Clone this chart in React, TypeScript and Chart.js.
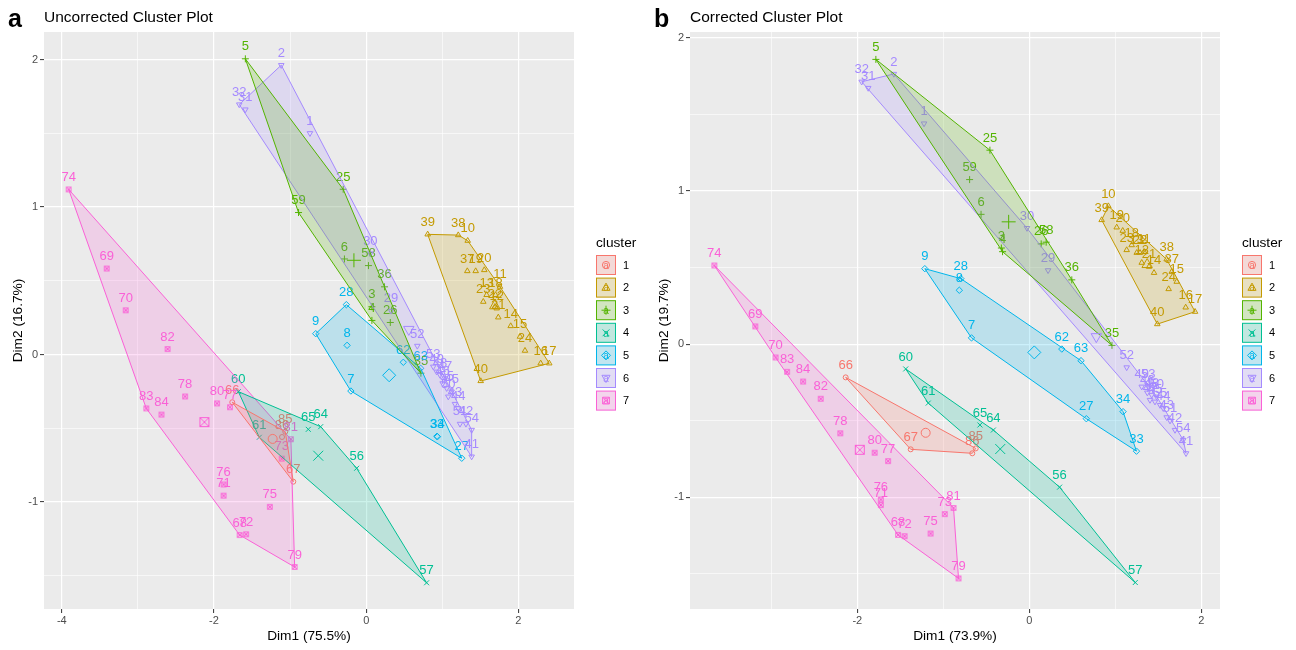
import React, { useEffect, useRef } from "react";
import { Chart, registerables } from "chart.js";

Chart.register(...registerables);

const FONT = "'Liberation Sans', Arial, Helvetica, sans-serif";

// ---------------- data ----------------
const clusterNames = ["1", "2", "3", "4", "5", "6", "7"];
const clusterColors = ["#F8766D", "#C49A00", "#53B400", "#00C094", "#00B6EB", "#A58AFF", "#FB61D7"];

const pointIds = [
  "1", "2", "3", "4", "5", "6", "7", "8", "9", "10",
  "11", "12", "13", "14", "15", "16", "17", "18", "19", "20",
  "21", "22", "23", "24", "25", "26", "27", "28", "29", "30",
  "31", "32", "33", "34", "35", "36", "37", "38", "39", "40",
  "41", "42", "43", "44", "45", "46", "47", "48", "49", "50",
  "51", "52", "53", "54", "55", "56", "57", "58", "59", "60",
  "61", "62", "63", "64", "65", "66", "67", "68", "69", "70",
  "71", "72", "73", "74", "75", "76", "77", "78", "79", "80",
  "81", "82", "83", "84", "85", "86",
];

const pointCluster = [
  6, 6, 3, 3, 3, 3, 5, 5, 5, 2,
  2, 2, 2, 2, 2, 2, 2, 2, 2, 2,
  2, 2, 2, 2, 3, 3, 5, 5, 6, 6,
  6, 6, 5, 5, 3, 3, 2, 2, 2, 2,
  6, 6, 6, 6, 6, 6, 6, 6, 6, 6,
  6, 6, 6, 6, 6, 4, 4, 3, 3, 4,
  4, 5, 5, 4, 4, 1, 1, 7, 7, 7,
  7, 7, 7, 7, 7, 7, 7, 7, 7, 7,
  7, 7, 7, 7, 1, 1,
];

// Panel a (uncorrected)
const dimA1 = [
  -0.739, -1.116, 0.075, 0.075, -1.588, -0.286, -0.201, -0.251, -0.663, 1.334,
  1.758, 1.715, 1.583, 1.899, 2.021, 2.293, 2.406, 1.70, 1.439, 1.552,
  1.736, 1.692, 1.539, 2.087, -0.302, 0.317, 1.256, -0.261, 0.327, 0.055,
  -1.588, -1.668, 0.93, 0.936, 0.719, 0.241, 1.329, 1.21, 0.808, 1.505,
  1.386, 1.311, 1.167, 1.21, 1.123, 1.005, 1.035, 0.97, 0.926, 1.079,
  1.233, 0.672, 0.882, 1.386, 1.058, -0.125, 0.794, 0.03, -0.889, -1.68,
  -1.405, 0.488, 0.716, -0.598, -0.761, -1.76, -0.958, -1.663, -3.41, -3.16,
  -1.874, -1.578, -1.11, -3.91, -1.266, -1.874, -1.79, -2.38, -0.94, -1.96,
  -0.99, -2.61, -2.89, -2.69, -1.063, -1.106,
];
const dimA2 = [
  1.501, 1.963, 0.324, 0.231, 2.006, 0.648, -0.248, 0.062, 0.141, 0.772,
  0.46, 0.313, 0.404, 0.193, 0.121, -0.06, -0.06, 0.404, 0.566, 0.573,
  0.252, 0.324, 0.358, 0.026, 1.121, 0.217, -0.704, 0.338, 0.296, 0.685,
  1.662, 1.696, -0.555, -0.558, -0.127, 0.459, 0.566, 0.81, 0.815, -0.18,
  -0.693, -0.471, -0.336, -0.365, -0.252, -0.196, -0.162, -0.139, -0.117, -0.286,
  -0.471, 0.058, -0.083, -0.512, -0.229, -0.772, -1.549, 0.603, 0.963, -0.252,
  -0.562, -0.053, -0.094, -0.49, -0.508, -0.324, -0.863, -1.225, 0.583, 0.30,
  -0.958, -1.22, -0.707, 1.12, -1.034, -0.882, -0.358, -0.285, -1.442, -0.332,
  -0.575, 0.037, -0.366, -0.408, -0.524, -0.56,
];
const centerA1 = [-1.229, 1.69, -0.161, -0.63, 0.302, 0.56, -2.126];
const centerA2 = [-0.573, 0.33, 0.639, -0.687, -0.141, 0.17, -0.459];

// Panel b (corrected)
const dimB1 = [
  -1.224, -1.575, -0.325, -0.311, -1.784, -0.561, -0.672, -0.814, -1.215, 0.919,
  1.334, 1.307, 1.249, 1.45, 1.714, 1.818, 1.927, 1.19, 1.016, 1.086,
  1.392, 1.287, 1.132, 1.62, -0.458, 0.138, 0.663, -0.796, 0.218, -0.027,
  -1.873, -1.949, 1.246, 1.09, 0.961, 0.494, 1.656, 1.597, 0.841, 1.488,
  1.822, 1.694, 1.597, 1.558, 1.461, 1.372, 1.403, 1.423, 1.307, 1.481,
  1.636, 1.132, 1.384, 1.79, 1.52, 0.352, 1.232, 0.196, -0.694, -1.437,
  -1.175, 0.378, 0.601, -0.418, -0.574, -2.135, -1.379, -1.526, -3.186, -2.95,
  -1.726, -1.45, -0.983, -3.662, -1.148, -1.726, -1.642, -2.198, -0.823, -1.798,
  -0.881, -2.425, -2.816, -2.63, -0.623, -0.663,
];
const dimB2 = [
  1.441, 1.765, 0.628, 0.604, 1.86, 0.848, 0.041, 0.352, 0.493, 0.902,
  0.604, 0.532, 0.597, 0.466, 0.408, 0.24, 0.212, 0.647, 0.763, 0.741,
  0.506, 0.597, 0.615, 0.36, 1.267, 0.655, -0.487, 0.428, 0.482, 0.758,
  1.673, 1.714, -0.699, -0.441, -0.008, 0.42, 0.473, 0.554, 0.811, 0.131,
  -0.713, -0.561, -0.478, -0.419, -0.376, -0.317, -0.365, -0.332, -0.278, -0.343,
  -0.5, -0.152, -0.278, -0.626, -0.398, -0.934, -1.557, 0.666, 1.075, -0.162,
  -0.385, -0.032, -0.108, -0.561, -0.528, -0.217, -0.687, -1.246, 0.116, -0.087,
  -1.051, -1.254, -1.11, 0.514, -1.237, -1.015, -0.764, -0.582, -1.53, -0.709,
  -1.07, -0.357, -0.181, -0.244, -0.681, -0.713,
];
const centerB1 = [-1.205, 1.37, -0.24, -0.338, 0.058, 0.779, -1.971];
const centerB2 = [-0.579, 0.52, 0.799, -0.685, -0.054, 0.049, -0.69];

// axis ticks (grid positions) and labelled ticks
const xTicksA = [-4, -3, -2, -1, 0, 1, 2];
const xLabelTicksA = [-4, -2, 0, 2];
const xTicksB = [-3, -2, -1, 0, 1, 2];
const xLabelTicksB = [-2, 0, 2];
const yTicks = [-1.5, -1, -0.5, 0, 0.5, 1, 1.5, 2];
const yLabelTicks = [-1, 0, 1, 2];

// ---------------- helpers ----------------
type P = { x: number; y: number };

function rgba(hex: string, a: number) {
  const n = parseInt(hex.slice(1), 16);
  return `rgba(${(n >> 16) & 255},${(n >> 8) & 255},${n & 255},${a})`;
}

function convexHull(pts: P[]): P[] {
  const p = [...pts].sort((a, b) => (a.x === b.x ? a.y - b.y : a.x - b.x));
  const cross = (o: P, a: P, b: P) => (a.x - o.x) * (b.y - o.y) - (a.y - o.y) * (b.x - o.x);
  const lower: P[] = [];
  for (const q of p) {
    while (lower.length >= 2 && cross(lower[lower.length - 2], lower[lower.length - 1], q) <= 0) lower.pop();
    lower.push(q);
  }
  const upper: P[] = [];
  for (let i = p.length - 1; i >= 0; i--) {
    const q = p[i];
    while (upper.length >= 2 && cross(upper[upper.length - 2], upper[upper.length - 1], q) <= 0) upper.pop();
    upper.push(q);
  }
  upper.pop();
  lower.pop();
  const h = lower.concat(upper);
  h.push(h[0]);
  return h;
}

function makeSquareCross(color: string, size: number) {
  const c = document.createElement("canvas");
  const s = Math.ceil(size) + 3;
  c.width = s;
  c.height = s;
  const g = c.getContext("2d")!;
  g.strokeStyle = color;
  g.lineWidth = 1;
  const a = (s - size) / 2;
  const b = a + size;
  g.strokeRect(a, a, size, size);
  g.beginPath();
  g.moveTo(a, a);
  g.lineTo(b, b);
  g.moveTo(b, a);
  g.lineTo(a, b);
  g.stroke();
  return c;
}

function drawShape(ctx: CanvasRenderingContext2D, k: number, x: number, y: number, r: number, color: string) {
  ctx.save();
  ctx.strokeStyle = color;
  ctx.lineWidth = 1;
  ctx.beginPath();
  if (k === 0) {
    ctx.arc(x, y, r * 0.8, 0, Math.PI * 2);
  } else if (k === 1) {
    ctx.moveTo(x, y - r);
    ctx.lineTo(x + r * 0.9, y + r * 0.6);
    ctx.lineTo(x - r * 0.9, y + r * 0.6);
    ctx.closePath();
  } else if (k === 2) {
    ctx.moveTo(x - r, y);
    ctx.lineTo(x + r, y);
    ctx.moveTo(x, y - r);
    ctx.lineTo(x, y + r);
  } else if (k === 3) {
    const d = r * 0.75;
    ctx.moveTo(x - d, y - d);
    ctx.lineTo(x + d, y + d);
    ctx.moveTo(x + d, y - d);
    ctx.lineTo(x - d, y + d);
  } else if (k === 4) {
    ctx.moveTo(x, y - r);
    ctx.lineTo(x + r, y);
    ctx.lineTo(x, y + r);
    ctx.lineTo(x - r, y);
    ctx.closePath();
  } else if (k === 5) {
    ctx.moveTo(x, y + r);
    ctx.lineTo(x + r * 0.9, y - r * 0.6);
    ctx.lineTo(x - r * 0.9, y - r * 0.6);
    ctx.closePath();
  } else {
    const d = r * 0.75;
    ctx.rect(x - d, y - d, 2 * d, 2 * d);
    ctx.moveTo(x - d, y - d);
    ctx.lineTo(x + d, y + d);
    ctx.moveTo(x + d, y - d);
    ctx.lineTo(x - d, y + d);
  }
  ctx.stroke();
  ctx.restore();
}

type PanelCfg = {
  letter: string;
  title: string;
  xTitle: string;
  yTitle: string;
  xMin: number;
  xMax: number;
  yMin: number;
  yMax: number;
  xs: number[];
  ys: number[];
  cx: number[];
  cy: number[];
  xTicks: number[];
  xLabelTicks: number[];
};

const panelA: PanelCfg = {
  letter: "a",
  title: "Uncorrected Cluster Plot",
  xTitle: "Dim1 (75.5%)",
  yTitle: "Dim2 (16.7%)",
  xMin: -4.234,
  xMax: 2.731,
  yMin: -1.727,
  yMax: 2.188,
  xs: dimA1,
  ys: dimA2,
  cx: centerA1,
  cy: centerA2,
  xTicks: xTicksA,
  xLabelTicks: xLabelTicksA,
};

const panelB: PanelCfg = {
  letter: "b",
  title: "Corrected Cluster Plot",
  xTitle: "Dim1 (73.9%)",
  yTitle: "Dim2 (19.7%)",
  xMin: -3.945,
  xMax: 2.217,
  yMin: -1.73,
  yMax: 2.039,
  xs: dimB1,
  ys: dimB2,
  cx: centerB1,
  cy: centerB2,
  xTicks: xTicksB,
  xLabelTicks: xLabelTicksB,
};

function styleFor(k: number, big: boolean, sqSmall: HTMLCanvasElement, sqBig: HTMLCanvasElement) {
  const base: any = { pointRotation: 0 };
  if (k === 0) return { ...base, pointStyle: "circle", pointRadius: big ? 4.5 : 2.5 };
  if (k === 1) return { ...base, pointStyle: "triangle", pointRadius: big ? 6 : 3.2 };
  if (k === 2) return { ...base, pointStyle: "cross", pointRadius: big ? 7 : 3.5 };
  if (k === 3) return { ...base, pointStyle: "crossRot", pointRadius: big ? 7 : 3.5 };
  if (k === 4) return { ...base, pointStyle: "rectRot", pointRadius: big ? 6.5 : 3.2 };
  if (k === 5) return { ...base, pointStyle: "triangle", pointRotation: 180, pointRadius: big ? 6 : 3.2 };
  return { ...base, pointStyle: big ? sqBig : sqSmall, pointRadius: 3 };
}

function buildConfig(cfg: PanelCfg): any {
  const datasets: any[] = [];
  const sqSmall = makeSquareCross(clusterColors[6], 4.5);
  const sqBig = makeSquareCross(clusterColors[6], 9);
  for (let k = 0; k < clusterNames.length; k++) {
    const color = clusterColors[k];
    const pts: P[] = [];
    const labs: string[] = [];
    pointIds.forEach((id, i) => {
      if (pointCluster[i] === k + 1) {
        pts.push({ x: cfg.xs[i], y: cfg.ys[i] });
        labs.push(id);
      }
    });
    datasets.push({
      type: "line",
      data: convexHull(pts),
      showLine: true,
      fill: "shape",
      backgroundColor: rgba(color, 0.2),
      borderColor: color,
      borderWidth: 1,
      pointRadius: 0,
      tension: 0,
      order: 2,
    });
    datasets.push({
      type: "scatter",
      data: pts,
      pointLabels: labs,
      labelColor: color,
      pointBorderColor: color,
      pointBackgroundColor: "rgba(0,0,0,0)",
      pointBorderWidth: 1,
      ...styleFor(k, false, sqSmall, sqBig),
      order: 3,
    });
    datasets.push({
      type: "scatter",
      data: [{ x: cfg.cx[k], y: cfg.cy[k] }],
      pointBorderColor: color,
      pointBackgroundColor: "rgba(0,0,0,0)",
      pointBorderWidth: 1,
      ...styleFor(k, true, sqSmall, sqBig),
      order: 1,
    });
  }

  const bgPlugin = {
    id: "panelBg",
    beforeDraw(chart: any) {
      const { ctx, chartArea: a } = chart;
      ctx.save();
      ctx.fillStyle = "#EBEBEB";
      ctx.fillRect(a.left, a.top, a.right - a.left, a.bottom - a.top);
      ctx.restore();
    },
  };

  const labelPlugin = {
    id: "pointText",
    beforeDatasetsDraw(chart: any) {
      const { ctx } = chart;
      ctx.save();
      ctx.font = `13px ${FONT}`;
      ctx.textAlign = "center";
      ctx.textBaseline = "middle";
      chart.data.datasets.forEach((ds: any, i: number) => {
        if (!ds.pointLabels) return;
        const meta = chart.getDatasetMeta(i);
        ctx.fillStyle = ds.labelColor;
        meta.data.forEach((el: any, j: number) => {
          ctx.fillText(ds.pointLabels[j], el.x, el.y - 12);
        });
      });
      ctx.restore();
    },
  };

  const decorPlugin = {
    id: "decor",
    afterDraw(chart: any) {
      const { ctx, chartArea: a } = chart;
      ctx.save();
      ctx.fillStyle = "#000000";
      ctx.textAlign = "left";
      ctx.textBaseline = "alphabetic";
      ctx.font = `bold 25px ${FONT}`;
      ctx.fillText(cfg.letter, a.left - 36, 27);
      ctx.font = `15.5px ${FONT}`;
      ctx.textBaseline = "middle";
      ctx.fillText(cfg.title, a.left, 18);

      // legend
      const lx = a.right + 22;
      ctx.font = `13.7px ${FONT}`;
      ctx.fillStyle = "#000000";
      ctx.fillText("cluster", lx, 243);
      for (let k = 0; k < clusterNames.length; k++) {
        const cyy = 265 + k * 22.6;
        const color = clusterColors[k];
        ctx.fillStyle = "#F2F2F2";
        ctx.fillRect(lx, cyy - 10, 20, 20);
        ctx.fillStyle = rgba(color, 0.2);
        ctx.fillRect(lx + 0.5, cyy - 9.5, 19, 19);
        ctx.strokeStyle = color;
        ctx.lineWidth = 1;
        ctx.strokeRect(lx + 0.5, cyy - 9.5, 19, 19);
        drawShape(ctx, k, lx + 10, cyy, 4.5, color);
        ctx.fillStyle = color;
        ctx.font = `10px ${FONT}`;
        ctx.textAlign = "center";
        ctx.fillText("a", lx + 10, cyy + 1);
        ctx.textAlign = "left";
        ctx.fillStyle = "#000000";
        ctx.font = `11px ${FONT}`;
        ctx.fillText(clusterNames[k], lx + 27, cyy + 0.5);
      }
      ctx.restore();
    },
  };

  const xMajor = (v: number) => cfg.xLabelTicks.includes(v);
  const yMajor = (v: number) => yLabelTicks.includes(v);

  return {
    type: "scatter",
    data: { datasets },
    plugins: [bgPlugin, labelPlugin, decorPlugin],
    options: {
      responsive: false,
      animation: false,
      devicePixelRatio: 1,
      events: [],
      layout: { padding: { left: 0, top: 32, right: 72, bottom: 0 } },
      plugins: {
        legend: { display: false },
        tooltip: { enabled: false },
        title: { display: false },
      },
      scales: {
        x: {
          type: "linear",
          min: cfg.xMin,
          max: cfg.xMax,
          afterBuildTicks: (s: any) => {
            s.ticks = cfg.xTicks.map((v) => ({ value: v }));
          },
          afterFit: (s: any) => {
            s.height = 41;
          },
          border: { display: false },
          grid: {
            color: "#FFFFFF",
            lineWidth: (c: any) => (xMajor(c.tick.value) ? 1.2 : 0.6),
            tickColor: (c: any) => (xMajor(c.tick.value) ? "#333333" : "rgba(0,0,0,0)"),
            tickWidth: 1,
            tickLength: 4,
            drawTicks: true,
          },
          ticks: {
            autoSkip: false,
            maxRotation: 0,
            padding: 1.5,
            color: "#4D4D4D",
            font: { family: FONT, size: 11 },
            callback: (v: any) => (xMajor(Number(v)) ? String(v) : ""),
          },
          title: {
            display: true,
            text: cfg.xTitle,
            color: "#000000",
            font: { family: FONT, size: 13.7 },
            padding: { top: 0, bottom: 5.6 },
          },
        },
        y: {
          type: "linear",
          min: cfg.yMin,
          max: cfg.yMax,
          afterBuildTicks: (s: any) => {
            s.ticks = yTicks.map((v) => ({ value: v }));
          },
          afterFit: (s: any) => {
            s.width = 44;
          },
          border: { display: false },
          grid: {
            color: "#FFFFFF",
            lineWidth: (c: any) => (yMajor(c.tick.value) ? 1.2 : 0.6),
            tickColor: (c: any) => (yMajor(c.tick.value) ? "#333333" : "rgba(0,0,0,0)"),
            tickWidth: 1,
            tickLength: 4,
            drawTicks: true,
          },
          ticks: {
            autoSkip: false,
            padding: 2,
            color: "#4D4D4D",
            font: { family: FONT, size: 11 },
            callback: (v: any) => (yMajor(Number(v)) ? String(v) : ""),
          },
          title: {
            display: true,
            text: cfg.yTitle,
            color: "#000000",
            font: { family: FONT, size: 13.7 },
            padding: { top: 9.8, bottom: 0 },
          },
        },
      },
    },
  };
}

function Panel({ cfg, left }: { cfg: PanelCfg; left: number }) {
  const ref = useRef<HTMLCanvasElement>(null);
  useEffect(() => {
    if (!ref.current) return;
    const chart = new Chart(ref.current, buildConfig(cfg));
    return () => chart.destroy();
  }, [cfg]);
  return (
    <canvas
      ref={ref}
      width={646}
      height={650}
      style={{ position: "absolute", left, top: 0, width: 646, height: 650 }}
    />
  );
}

export default function App() {
  return (
    <div
      style={{
        position: "absolute",
        left: 0,
        top: 0,
        width: 1296,
        height: 650,
        background: "#FFFFFF",
        overflow: "hidden",
      }}
    >
      <Panel cfg={panelA} left={0} />
      <Panel cfg={panelB} left={646} />
    </div>
  );
}
